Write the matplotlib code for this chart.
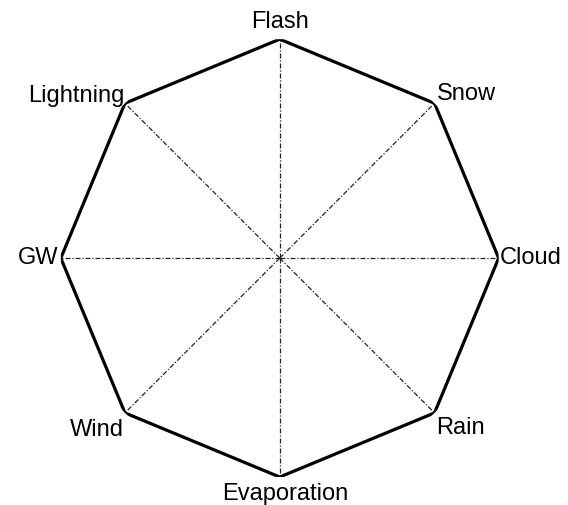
import numpy as np
import matplotlib.pyplot as plt

plt.rcParams['font.family'] = ['Liberation Sans', 'DejaVu Sans']

labels = ['Flash', 'Snow', 'Cloud', 'Rain', 'Evaporation', 'Wind', 'GW', 'Lightning']
values = [1, 1, 1, 1, 1, 1, 1, 1]

# label placement: (ha, va, dx, dy) in pixels
label_pos = [('center', 'bottom', 0, 6),
             ('left', 'bottom', 2, -2),
             ('left', 'center', 1, 0),
             ('left', 'top', 2, -4),
             ('center', 'top', 6, -6),
             ('right', 'top', -1, -6),
             ('right', 'center', -2, 0),
             ('right', 'bottom', 0, -4)]

n = len(labels)
angles = np.linspace(0, 2 * np.pi, n, endpoint=False)

fig = plt.figure(figsize=(5.68, 5.05), dpi=100)
ax = fig.add_axes([0.107, 0.0554, 0.771, 0.867], projection='polar')
ax.set_theta_offset(np.pi / 2)
ax.set_theta_direction(-1)
ax.set_ylim(0, 1)
ax.grid(False)
ax.set_xticks([])
ax.set_yticks([])
ax.spines['polar'].set_visible(False)

# spokes
for a in angles:
    ax.plot([a, a], [0, 1], color='#222222', lw=0.9, ls='-.', dashes=(4, 1.5, 1, 1.5))

# outline
a_closed = np.append(angles, angles[0])
v_closed = values + values[:1]
ax.plot(a_closed, v_closed, color='black', lw=2.3, solid_joinstyle='miter')

for a, v, lab, (ha, va, dx, dy) in zip(angles, values, labels, label_pos):
    ax.annotate(lab, xy=(a, v), xytext=(dx, dy), textcoords='offset pixels',
                ha=ha, va=va, fontsize=17, annotation_clip=False)

fig.savefig('out.png', dpi=100)
